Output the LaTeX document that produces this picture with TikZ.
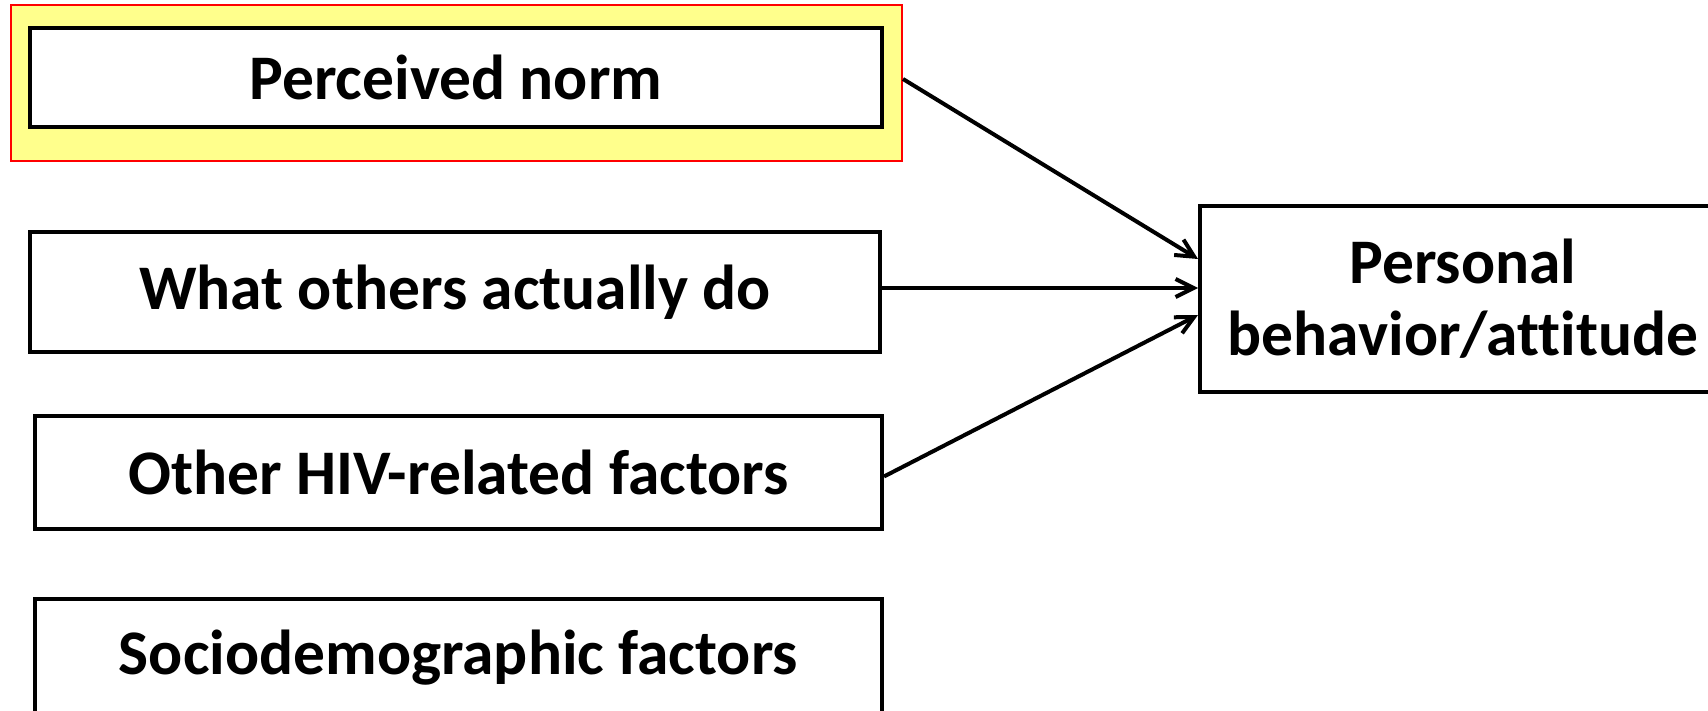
\documentclass[tikz,border=0pt]{standalone}
\usepackage{fontspec}
\setmainfont[Ligatures=NoCommon]{Carlito}
\usetikzlibrary{arrows.meta}
\definecolor{hlyellow}{RGB}{255,255,140}
\tikzset{
  factor/.style={draw, line width=2pt, fill=white, inner sep=0pt,
    font=\fontsize{31.75}{36}\selectfont\bfseries, align=center},
  link/.style={line width=2pt, -{Straight Barb[length=9pt, width=9pt, line width=2pt]}}
}

\begin{document}
\begin{tikzpicture}[x=0.5pt, y=-0.5pt]
		\clip (0,0) rectangle (1708,711);

		% highlight behind the perceived norm
		\node[draw=red, line width=1pt, fill=hlyellow, minimum width=445.5pt, minimum height=78pt] (hl) at (456.5,83) {};

		\foreach \n / \x / \y / \w / \h / \t in {pn/456/77.5/426/49.5/Perceived norm, wo/455/292/425/60/What others actually do, oh/458.5/472.5/423.5/56.5/Other HIV-related factors, sd/458.5/658/423.5/59/Sociodemographic factors}
		\node[factor, minimum width=\w pt, minimum height=\h pt] (\n) at (\x, \y) {\t};

		\node[factor, minimum width=263pt, minimum height=93pt] (pb) at (1463, 299) {Personal\\behavior/attitude};

		\draw[link] ([yshift=2pt]hl.east) -- ([yshift=20pt]pb.west);
		\draw[link] ([yshift=2pt]wo.east) -- ([yshift=5.5pt]pb.west);
		\draw[link] ([yshift=-2pt]oh.east) -- ([yshift=-8pt]pb.west);
	\end{tikzpicture}
\end{document}
